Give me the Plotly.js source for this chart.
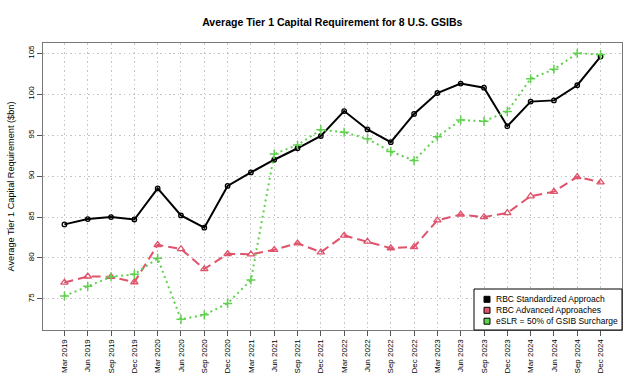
<!DOCTYPE html>
<html>
<head>
<meta charset="utf-8">
<script src="https://cdn.plot.ly/plotly-3.0.1.min.js"></script>
<style>html,body{margin:0;padding:0;background:#fff}#chart{width:644px;height:384px}</style>
</head>
<body>
<div id="chart"></div>
<script>
const quarters = ["Mar 2019","Jun 2019","Sep 2019","Dec 2019","Mar 2020","Jun 2020","Sep 2020","Dec 2020",
  "Mar 2021","Jun 2021","Sep 2021","Dec 2021","Mar 2022","Jun 2022","Sep 2022","Dec 2022",
  "Mar 2023","Jun 2023","Sep 2023","Dec 2023","Mar 2024","Jun 2024","Sep 2024","Dec 2024"];
const standardized = [84.1,84.75,85.0,84.7,88.5,85.2,83.7,88.8,90.45,92.0,93.4,94.9,97.95,95.7,94.15,97.6,100.15,101.3,100.8,96.1,99.1,99.25,101.1,104.6];
const advanced = [77.0,77.75,77.7,77.05,81.6,81.1,78.65,80.5,80.45,81.0,81.8,80.7,82.75,82.0,81.2,81.35,84.6,85.3,85.0,85.5,87.55,88.1,89.9,89.25];
const eslr = [75.35,76.55,77.7,78.0,79.95,72.5,73.05,74.45,77.3,92.7,93.8,95.65,95.35,94.55,93.0,91.9,94.8,96.85,96.7,97.9,101.9,103.05,105.0,104.85];
const seriesNames = ["RBC Standardized Approach","RBC Advanced Approaches","eSLR = 50% of GSIB Surcharge"];
const yTicks = [75,80,85,90,95,100,105];

const colors = ["#000000","#DF536B","#61D04F"];
const font = "Liberation Sans, Arial, sans-serif";
const xIdx = quarters.map((q,i)=>i);

const traces = [
  {x:xIdx,y:standardized,mode:"lines+markers",showlegend:false,
   line:{color:colors[0],width:2,dash:"solid"},
   marker:{symbol:"circle-open",size:4.5,color:colors[0],line:{width:1.3,color:colors[0]}}},
  {x:xIdx,y:advanced,mode:"lines+markers",showlegend:false,
   line:{color:colors[1],width:2,dash:"9px,5px"},
   marker:{symbol:"triangle-up-open",size:6.5,color:colors[1],line:{width:1.3,color:colors[1]}}},
  {x:xIdx,y:eslr,mode:"lines+markers",showlegend:false,
   line:{color:colors[2],width:2,dash:"2px,3.5px"},
   marker:{symbol:"cross-thin-open",size:6.5,color:colors[2],line:{width:1.5,color:colors[2]}}}
];

// plot area in pixels (for the hand-built legend box)
const PL=43, PR=622, PT=43, PB=330;
const fx = p => (p-PL)/(PR-PL), fy = p => (PB-p)/(PB-PT);
const legRows = [299.3,310.3,321.2];
const shapes = [{type:"rect",xref:"paper",yref:"paper",x0:fx(474),x1:1,y0:0,y1:fy(289),
  line:{color:"#000",width:1},fillcolor:"#fff",layer:"above"}];
const annotations = [];
seriesNames.forEach((n,i)=>{
  shapes.push({type:"rect",xref:"paper",yref:"paper",x0:fx(484),x1:fx(490),y0:fy(legRows[i]+3),y1:fy(legRows[i]-3),
    line:{color:"#000",width:1},fillcolor:colors[i],layer:"above"});
  annotations.push({xref:"paper",yref:"paper",x:fx(494),y:fy(legRows[i]),xanchor:"left",yanchor:"middle",
    text:n,showarrow:false,font:{family:font,size:8.5,color:"#000"}});
});

const grid = {showgrid:true,gridcolor:"#c4c4c4",griddash:"1.5px,3px",gridwidth:1,
  showline:true,mirror:true,linecolor:"#777",linewidth:1,
  ticks:"outside",ticklen:5,tickcolor:"#555",zeroline:false,automargin:false,
  tickfont:{family:font,size:8,color:"#000"}};

const layout = {
  width:644,height:384,
  margin:{l:PL,r:644-PR,t:PT,b:384-PB},
  paper_bgcolor:"#fff",plot_bgcolor:"#fff",
  font:{family:font,size:8,color:"#000"},
  title:{text:"<b>Average Tier 1 Capital Requirement for 8 U.S. GSIBs</b>",
    font:{family:font,size:10.5,color:"#000"},x:0.516,xanchor:"center",yref:"container",y:1-22/384,yanchor:"middle"},
  xaxis:Object.assign({range:[-0.92,23.92],tickmode:"array",tickvals:xIdx,ticktext:quarters,tickangle:-90},grid),
  yaxis:Object.assign({range:[71.2,106.26],tickmode:"array",tickvals:yTicks,tickangle:-90,
    title:{text:"Average Tier 1 Capital Requirement ($bn)",font:{family:font,size:9.2,color:"#000"},standoff:10}},grid),
  shapes:shapes,annotations:annotations,
  showlegend:false
};
Plotly.newPlot("chart",traces,layout,{displayModeBar:false,staticPlot:true});
</script>
</body>
</html>
